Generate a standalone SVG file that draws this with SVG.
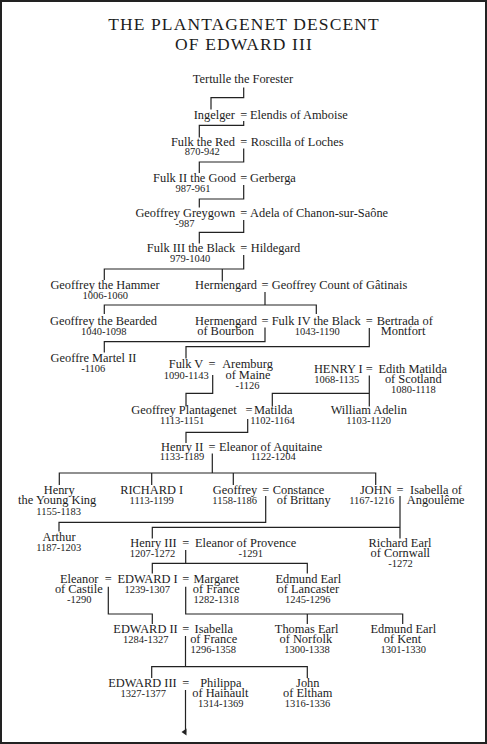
<svg xmlns="http://www.w3.org/2000/svg" width="487" height="744" viewBox="0 0 487 744">
<style>
text{font-family:"Liberation Serif","Times New Roman",serif;fill:#1c1c1c;font-size:12.4px}
.t{font-size:17.5px;letter-spacing:1.1px;text-anchor:middle}
.d{font-size:10.5px}
.c{text-anchor:middle}
.e{text-anchor:end}
.ln{fill:none;stroke:#222;stroke-width:1.2}
</style>
<defs>
<marker id="arr" markerUnits="userSpaceOnUse" markerWidth="8" markerHeight="6" refX="4" refY="1" orient="auto-start-reverse" viewBox="0 0 8 6">
<path d="M0.5,0 L7.5,0 L4,5 Z" fill="#222"/>
</marker>
</defs>
<rect x="1" y="1" width="485" height="742" fill="#fff" stroke="#222" stroke-width="2"/>
<g id="title">
<text class="t" x="244" y="29.5">THE PLANTAGENET DESCENT</text>
<text class="t" x="244" y="49.5">OF EDWARD III</text>
</g>
<g id="connectors">
<path class="ln" d="M243.7,87.5 V97.7 H211 V109.5"/>
<path class="ln" d="M243.7,121 V125.3 H199.3 V137.5"/>
<path class="ln" d="M243.7,148.5 V162 H199.3 V173"/>
<path class="ln" d="M243.7,185 V199 H199.3 V207.5"/>
<path class="ln" d="M243.7,220 V232.3 H199.3 V243.5"/>
<path class="ln" d="M243.7,255 V269 H104.3 V280 M222.3,269 V281.5"/>
<path class="ln" d="M265,292 V305 M104.3,314 V305 H316.3 V314"/>
<path class="ln" d="M265,327.5 V341.7 H104.3 V352.5"/>
<path class="ln" d="M369.3,328 V346.7 H186 V358.5"/>
<path class="ln" d="M212.7,375 V393.3 H186 V406.5"/>
<path class="ln" d="M369.3,375.5 V406.5 M369.3,393.3 H272.3 V406.5"/>
<path class="ln" d="M247.7,419 V432.3 H186 V443"/>
<path class="ln" d="M212.3,453.5 V473 M59.3,485 V473 H375.7 V485 M151.7,473 V485 M233.3,473 V485"/>
<path class="ln" d="M265.7,496 V522.3 H59 V531.5"/>
<path class="ln" d="M400,496 V538.5 M400,527.3 H152.3 V538.5"/>
<path class="ln" d="M185.7,550 V563.3 M152.3,573.5 V563.3 H307.3 V573.5"/>
<path class="ln" d="M108.3,586.7 V614 H152.3 V624"/>
<path class="ln" d="M185.7,586.7 V614 H402.7 V624 M307.3,614 V624"/>
<path class="ln" d="M185.5,636 V666.7 M151.7,678 V666.7 H307.3 V678"/>
<path class="ln" d="M185.5,690 V732" marker-end="url(#arr)"/>
</g>
<g id="tertulle"><text class="c" x="243" y="82.5">Tertulle the Forester</text></g>
<g id="ingelger"><text class="e" x="235" y="118.7">Ingelger</text></g>
<g id="m1"><text class="c" x="243.7" y="118.7">=</text></g>
<g id="elendis"><text x="250" y="118.7">Elendis of Amboise</text></g>
<g id="fulk-red"><text class="e" x="235" y="145.7">Fulk the Red</text><text class="d c" x="202.3" y="155">870-942</text></g>
<g id="m2"><text class="c" x="243.7" y="145.7">=</text></g>
<g id="roscilla"><text x="250.7" y="145.7">Roscilla of Loches</text></g>
<g id="fulk-ii"><text class="e" x="236" y="182.3">Fulk II the Good</text><text class="d c" x="193" y="191.7">987-961</text></g>
<g id="m3"><text class="c" x="243.7" y="182.3">=</text></g>
<g id="gerberga"><text x="250" y="182.3">Gerberga</text></g>
<g id="geoffrey-greygown"><text class="e" x="235.3" y="217.3">Geoffrey Greygown</text><text class="d c" x="184.8" y="227">-987</text></g>
<g id="m4"><text class="c" x="243.7" y="217.3">=</text></g>
<g id="adela"><text x="250" y="217.3">Adela of Chanon-sur-Saône</text></g>
<g id="fulk-iii"><text class="e" x="235.3" y="252.3">Fulk III the Black</text><text class="d c" x="190.2" y="261.7">979-1040</text></g>
<g id="m5"><text class="c" x="243.7" y="252.3">=</text></g>
<g id="hildegard"><text x="250.7" y="252.3">Hildegard</text></g>
<g id="geoffrey-hammer"><text class="c" x="105" y="289.3">Geoffrey the Hammer</text><text class="d c" x="105.3" y="299">1006-1060</text></g>
<g id="hermengard"><text class="e" x="257" y="289.3">Hermengard</text></g>
<g id="m6"><text class="c" x="265" y="289.3">=</text></g>
<g id="geoffrey-gatinais"><text x="271.7" y="289.3">Geoffrey Count of Gâtinais</text></g>
<g id="geoffrey-bearded"><text class="c" x="103.5" y="325">Geoffrey the Bearded</text><text class="d c" x="103.8" y="334.5">1040-1098</text></g>
<g id="hermengard-bourbon"><text class="e" x="257" y="325">Hermengard</text><text class="e" x="254" y="335">of Bourbon</text></g>
<g id="m7"><text class="c" x="265" y="325">=</text></g>
<g id="fulk-iv"><text x="271.7" y="325">Fulk IV the Black</text><text class="d c" x="317.3" y="335.3">1043-1190</text></g>
<g id="m8"><text class="c" x="369.3" y="325">=</text></g>
<g id="bertrada"><text x="376.7" y="325">Bertrada of</text><text x="380.7" y="335">Montfort</text></g>
<g id="geoffre-martel"><text class="c" x="93.5" y="361.5">Geoffre Martel II</text><text class="d c" x="93.3" y="371.5">-1106</text></g>
<g id="fulk-v"><text class="e" x="203.3" y="368.3">Fulk V</text><text class="d c" x="186.2" y="379">1090-1143</text></g>
<g id="m9"><text class="c" x="212" y="368.3">=</text></g>
<g id="aremburg"><text class="c" x="247.5" y="368.3">Aremburg</text><text class="c" x="248" y="379">of Maine</text><text class="d c" x="247.5" y="388.5">-1126</text></g>
<g id="henry-i"><text class="e" x="362.7" y="372.7">HENRY I</text><text class="d c" x="336.7" y="382.7">1068-1135</text></g>
<g id="m10"><text class="c" x="369.3" y="372.7">=</text></g>
<g id="edith"><text class="c" x="412.7" y="372.7">Edith Matilda</text><text class="c" x="413.3" y="383">of Scotland</text><text class="d c" x="413.3" y="392.7">1080-1118</text></g>
<g id="geoffrey-plantagenet"><text class="e" x="236.7" y="414.3">Geoffrey Plantagenet</text><text class="d c" x="182.2" y="424">1113-1151</text></g>
<g id="m11"><text class="c" x="249" y="414.3">=</text></g>
<g id="matilda"><text x="254" y="414.3">Matilda</text><text class="d c" x="272.5" y="424">1102-1164</text></g>
<g id="william-adelin"><text class="c" x="368.8" y="414.3">William Adelin</text><text class="d c" x="368.7" y="424">1103-1120</text></g>
<g id="henry-ii"><text class="e" x="203.3" y="450.7">Henry II</text><text class="d c" x="182" y="460">1133-1189</text></g>
<g id="m12"><text class="c" x="212" y="450.7">=</text></g>
<g id="eleanor-aquitaine"><text x="219" y="450.7">Eleanor of Aquitaine</text><text class="d c" x="273.3" y="460">1122-1204</text></g>
<g id="henry-young-king"><text class="c" x="59.2" y="494">Henry</text><text class="c" x="57.2" y="504">the Young King</text><text class="d c" x="58.7" y="514.5">1155-1183</text></g>
<g id="richard-i"><text class="c" x="151.7" y="494">RICHARD I</text><text class="d c" x="151.7" y="504">1113-1199</text></g>
<g id="geoffrey"><text class="e" x="257.3" y="494">Geoffrey</text><text class="d c" x="234.7" y="504">1158-1186</text></g>
<g id="m13"><text class="c" x="265.7" y="494">=</text></g>
<g id="constance"><text x="272.7" y="494">Constance</text><text x="276.7" y="504">of Brittany</text></g>
<g id="john"><text class="e" x="391.7" y="494">JOHN</text><text class="d c" x="371.7" y="504">1167-1216</text></g>
<g id="m14"><text class="c" x="400" y="494">=</text></g>
<g id="isabella-angouleme"><text class="c" x="436" y="494">Isabella of</text><text class="c" x="435.7" y="504">Angoulême</text></g>
<g id="arthur"><text class="c" x="59" y="541">Arthur</text><text class="d c" x="58.8" y="551">1187-1203</text></g>
<g id="henry-iii"><text class="e" x="176.7" y="547.3">Henry III</text><text class="d c" x="152.5" y="557.3">1207-1272</text></g>
<g id="m15"><text class="c" x="185.7" y="547.3">=</text></g>
<g id="eleanor-provence"><text x="195" y="547.3">Eleanor of Provence</text><text class="d c" x="250.8" y="557.3">-1291</text></g>
<g id="richard-cornwall"><text class="c" x="400" y="547.3">Richard Earl</text><text class="c" x="400.3" y="557.3">of Cornwall</text><text class="d c" x="400.5" y="567.3">-1272</text></g>
<g id="eleanor-castile"><text class="c" x="79.2" y="582.7">Eleanor</text><text class="c" x="78.8" y="593.3">of Castile</text><text class="d c" x="79.3" y="603.3">-1290</text></g>
<g id="m16"><text class="c" x="108.3" y="582.7">=</text></g>
<g id="edward-i"><text class="c" x="147.5" y="582.7">EDWARD I</text><text class="d c" x="147.2" y="593.3">1239-1307</text></g>
<g id="m17"><text class="c" x="185.7" y="582.7">=</text></g>
<g id="margaret"><text class="c" x="216.2" y="582.7">Margaret</text><text class="c" x="216.3" y="593.3">of France</text><text class="d c" x="216.3" y="603.3">1282-1318</text></g>
<g id="edmund-lancaster"><text class="c" x="308.3" y="582.7">Edmund Earl</text><text class="c" x="308.3" y="593.3">of Lancaster</text><text class="d c" x="307.7" y="603.3">1245-1296</text></g>
<g id="edward-ii"><text class="e" x="177.7" y="633.3">EDWARD II</text><text class="d c" x="145.8" y="643.3">1284-1327</text></g>
<g id="m18"><text class="c" x="185.7" y="633.3">=</text></g>
<g id="isabella-france"><text class="c" x="213.8" y="633.3">Isabella</text><text class="c" x="213.7" y="643.3">of France</text><text class="d c" x="213.3" y="653.3">1296-1358</text></g>
<g id="thomas-norfolk"><text class="c" x="306.7" y="633.3">Thomas Earl</text><text class="c" x="305.8" y="643.3">of Norfolk</text><text class="d c" x="307" y="653.3">1300-1338</text></g>
<g id="edmund-kent"><text class="c" x="403.3" y="633.3">Edmund Earl</text><text class="c" x="402.5" y="643.3">of Kent</text><text class="d c" x="403.3" y="653.3">1301-1330</text></g>
<g id="edward-iii"><text class="e" x="176.7" y="687.3">EDWARD III</text><text class="d c" x="143.2" y="697.3">1327-1377</text></g>
<g id="m19"><text class="c" x="185.7" y="687.3">=</text></g>
<g id="philippa"><text class="c" x="220.8" y="687.3">Philippa</text><text class="c" x="220.3" y="697.3">of Hainault</text><text class="d c" x="220.7" y="707.3">1314-1369</text></g>
<g id="john-eltham"><text class="c" x="307.8" y="687.3">John</text><text class="c" x="307.7" y="697.3">of Eltham</text><text class="d c" x="307.5" y="707.3">1316-1336</text></g>
</svg>
